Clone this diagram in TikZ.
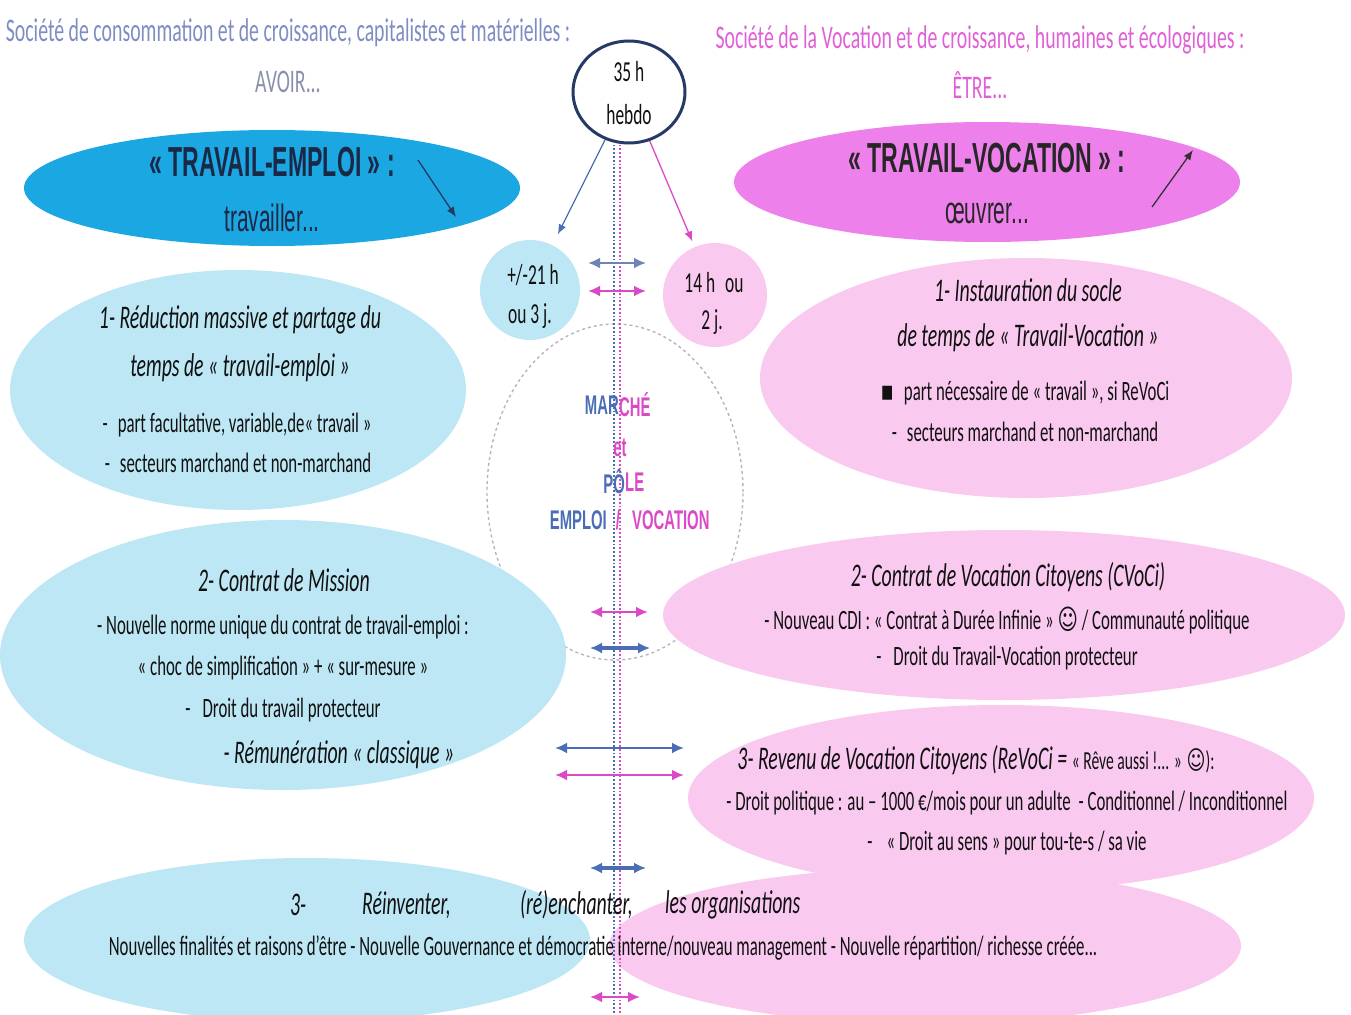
\documentclass[tikz,border=0pt]{standalone}
\usepackage{fontspec}
\setmainfont{Carlito}[FakeStretch=0.6]
\newfontfamily\arialc{Liberation Sans}[FakeStretch=0.55]
\newfontfamily\symf{DejaVu Sans}[FakeStretch=0.7]
\usetikzlibrary{shapes.geometric,arrows.meta}
\definecolor{bigblue}{HTML}{1BA7E2}
\definecolor{bigpink}{HTML}{EE80EC}
\definecolor{lightblue}{HTML}{BDE7F5}
\definecolor{lightpink}{HTML}{F9C9F0}
\definecolor{titleblue}{HTML}{7D8DC4}
\definecolor{titlegray}{HTML}{8A90AC}
\definecolor{titlepink}{HTML}{E060D6}
\definecolor{navy}{HTML}{263A66}
\definecolor{arrblue}{HTML}{4A6DB5}
\definecolor{arrgray}{HTML}{6E84B4}
\definecolor{arrpink}{HTML}{DA4AC6}
\definecolor{textdark}{HTML}{111111}
\definecolor{dotgray}{HTML}{B4B4C4}
\tikzset{
  ell/.style={ellipse, inner sep=0pt, draw=none},
  txt/.style={inner sep=0pt, anchor=center, text=textdark},
  ttl/.style={inner sep=0pt, font=\fontsize{33}{36}\selectfont},
  head/.style={txt, font=\itshape\fontsize{33}{38}\selectfont},
  body/.style={txt, font=\fontsize{28}{32}\selectfont},
  big/.style={txt, font=\arialc\bfseries\fontsize{42}{46}\selectfont},
  bigsub/.style={txt, font=\arialc\fontsize{38}{42}\selectfont},
  small/.style={txt, font=\fontsize{29}{32}\selectfont},
  mid/.style={inner sep=0pt, font=\arialc\bfseries\fontsize{27}{32}\selectfont},
  dbl/.style={{Latex[length=12pt,width=11pt]}-{Latex[length=12pt,width=11pt]}, line width=2.4pt},
  vline/.style={line width=1.8pt, dotted},
}
\begin{document}
\begin{tikzpicture}[x=1pt,y=-1pt]
\useasboundingbox (0,0) rectangle (1351,1014);
% dotted central circle
\node[ell, draw=dotgray, dashed, line width=1.4pt, minimum width=256pt, minimum height=336pt] (dc) at (615,492) {};
% big ellipses
\node[ell, fill=bigblue, minimum width=496pt, minimum height=116pt] (TE) at (272,188) {};
\node[ell, fill=bigpink, minimum width=506pt, minimum height=120pt] (TV) at (987,182) {};
% small circles
\node[ell, fill=lightblue, minimum width=100pt, minimum height=100pt] (s21) at (530,290) {};
\node[ell, fill=lightpink, minimum width=104pt, minimum height=104pt] (s14) at (715,295) {};
% section ellipses
\node[ell, fill=lightblue, minimum width=456pt, minimum height=240pt] (L1) at (238,390) {};
\node[ell, fill=lightpink, minimum width=532pt, minimum height=240pt] (R1) at (1026,378) {};
\node[ell, fill=lightblue, minimum width=566pt, minimum height=270pt] (L2) at (283,655) {};
\node[ell, fill=lightpink, minimum width=682pt, minimum height=170pt] (R2) at (1004,615) {};
\node[ell, fill=lightpink, minimum width=626pt, minimum height=186pt] (R3) at (1001,798) {};
\node[ell, fill=lightpink, minimum width=632pt, minimum height=156pt] (B2) at (925,946) {};
\node[ell, fill=lightblue, minimum width=566pt, minimum height=164pt] (B1) at (307,940) {};
% 35 h circle
\node[ell, draw=navy, line width=3pt, fill=white, minimum width=112pt, minimum height=102pt] (c35) at (629,92) {};
% vertical dotted lines
\coordinate (vb) at (614,1014);
\coordinate (vp) at (620,1014);
\draw[vline, draw=arrblue] (c35.south -| vb) -- (vb);
\draw[vline, draw=arrpink] (c35.south -| vp) -- (vp);
% arrows from 35 h
\draw[-{Latex[length=10pt,width=8pt]}, arrblue, line width=1.3pt, shorten >=12pt] (c35) -- (s21);
\draw[-{Latex[length=10pt,width=8pt]}, arrpink, line width=1.3pt, shorten >=6pt] (c35) -- (s14);
% arrows inside big ellipses
\coordinate (ta1) at (418,160); \coordinate (ta2) at (456,217);
\draw[-{Latex[length=10pt,width=8pt]}, navy, line width=1.3pt] (ta1) -- (ta2);
\coordinate (tv1) at (1152,207); \coordinate (tv2) at (1193,150);
\draw[-{Latex[length=10pt,width=8pt]}, black!80, line width=1.3pt] (tv1) -- (tv2);
% double arrows
\coordinate (d1a) at (588,263); \coordinate (d1b) at (646,263);
\draw[dbl, arrgray] (d1a) -- (d1b);
\coordinate (d2a) at (588,291); \coordinate (d2b) at (646,291);
\draw[dbl, arrpink] (d2a) -- (d2b);
\coordinate (d3a) at (590,612); \coordinate (d3b) at (648,612);
\draw[dbl, arrpink] (d3a) -- (d3b);
\coordinate (d4a) at (590,648); \coordinate (d4b) at (650,648);
\draw[dbl, arrblue, line width=3.2pt] (d4a) -- (d4b);
\coordinate (d5a) at (555,748); \coordinate (d5b) at (684,748);
\draw[dbl, arrblue] (d5a) -- (d5b);
\coordinate (d6a) at (555,775); \coordinate (d6b) at (684,775);
\draw[dbl, arrpink] (d6a) -- (d6b);
\coordinate (d7a) at (590,868); \coordinate (d7b) at (646,868);
\draw[dbl, arrblue, line width=3.2pt] (d7a) -- (d7b);
\coordinate (d8a) at (590,997); \coordinate (d8b) at (640,997);
\draw[dbl, arrpink] (d8a) -- (d8b);
% titles
\node[ttl, text=titleblue] (tl1) at (288,33) {Société de consommation et de croissance, capitalistes et matérielles :};
\node[ttl, text=titlegray] (tl2) at (288,82) {AVOIR...};
\node[ttl, text=titlepink] (tr1) at (980,40) {Société de la Vocation et de croissance, humaines et écologiques :};
\node[ttl, text=titlepink] (tr2) at (980,85) {ÊTRE...};
% big ellipse texts
\node[big, text=navy!70!black] (te1) at (272,162) {« TRAVAIL-EMPLOI » :};
\node[bigsub, text=navy!70!black] (te2) at (272,218) {travailler...};
\node[big, text=black!85] (tv1t) at (987,158) {« TRAVAIL-VOCATION » :};
\node[bigsub, text=black!85] (tv2t) at (987,213) {œuvrer...};
% 35 h
\node[small] (c35a) at (629,72) {35 h};
\node[small] (c35b) at (629,115) {hebdo};
\node[small] (s21a) at (533,275) {+/-21 h};
\node[small] (s21b) at (530,316) {ou 3 j.};
\node[small] (s14a) at (714,283) {14 h\hspace{10pt}ou};
\node[small] (s14b) at (712,322) {2 j.};
% centre labels
\node[mid, anchor=east, text=arrblue] (m1a) at (619,405) {MAR};
\node[mid, anchor=west, text=arrpink] (m1b) at (619,405) {CHÉ};
\node[mid, text=arrpink] (m2) at (620,448) {et};
\node[mid, anchor=east, text=arrblue] (m3a) at (625,482) {PÔ};
\node[mid, anchor=west, text=arrpink] (m3b) at (625,482) {LE};
\node[mid, anchor=east, text=arrblue] (m4a) at (607,520) {EMPLOI};
\node[mid, text=arrpink] (m4s) at (618,520) {/};
\node[mid, anchor=west, text=arrpink] (m4b) at (632,520) {VOCATION};
% left 1
\node[head] (l1a) at (240,320) {1- Réduction massive et partage du};
\node[head] (l1b) at (240,368) {temps de « travail-emploi »};
\node[body] (l1c) at (237,425) {-\hspace{10pt}part facultative, variable,de« travail »};
\node[body] (l1d) at (238,463) {-\hspace{10pt}secteurs marchand et non-marchand};
% right 1
\node[head] (r1a) at (1028,290) {1- Instauration du socle};
\node[head] (r1b) at (1028,338) {de temps de « Travail-Vocation »};
\node[body] (r1c) at (1025,393) {{\symf ▪}\hspace{10pt}part nécessaire de « travail », si ReVoCi};
\node[body] (r1d) at (1025,432) {-\hspace{10pt}secteurs marchand et non-marchand};
% left 2
\node[head] (l2a) at (284,580) {2- Contrat de Mission};
\node[body] (l2b) at (283,627) {- Nouvelle norme unique du contrat de travail-emploi :};
\node[body] (l2c) at (283,668) {« choc de simplification » + « sur-mesure »};
\node[body] (l2d) at (283,710) {-\hspace{12pt}Droit du travail protecteur};
\node[head] (l2e) at (339,755) {- Rémunération « classique »};
% right 2
\node[head] (r2a) at (1008,577) {2- Contrat de Vocation Citoyens (CVoCi)};
\node[body] (r2b) at (1007,620) {- Nouveau CDI : « Contrat à Durée Infinie » {\symf ☺} / Communauté politique};
\node[body] (r2c) at (1007,658) {-\hspace{12pt}Droit du Travail-Vocation protecteur};
% right 3
\node[txt] (r3a) at (976,760) {{\itshape\fontsize{33}{38}\selectfont 3- Revenu de Vocation Citoyens (ReVoCi = }{\fontsize{26}{30}\selectfont « Rêve aussi !... » {\symf ☺}):}};
\node[body] (r3b) at (1007,803) {- Droit politique : au – 1000 €/mois pour un adulte\hspace{8pt}- Conditionnel / Inconditionnel};
\node[body] (r3c) at (1007,843) {-\hspace{14pt}« Droit au sens » pour tou-te-s / sa vie};
% bottom
\node[head, anchor=west] (b1a) at (290,905) {3-};
\node[head, anchor=west] (b1b) at (362,905) {Réinventer,};
\node[head, anchor=west] (b1c) at (520,905) {(ré)enchanter,};
\node[head, anchor=west] (b1d) at (665,905) {les organisations};
\node[body] (b2) at (603,948) {Nouvelles finalités et raisons d'être - Nouvelle Gouvernance et démocratie interne/nouveau management - Nouvelle répartition/ richesse créée...};
\end{tikzpicture}
\end{document}
